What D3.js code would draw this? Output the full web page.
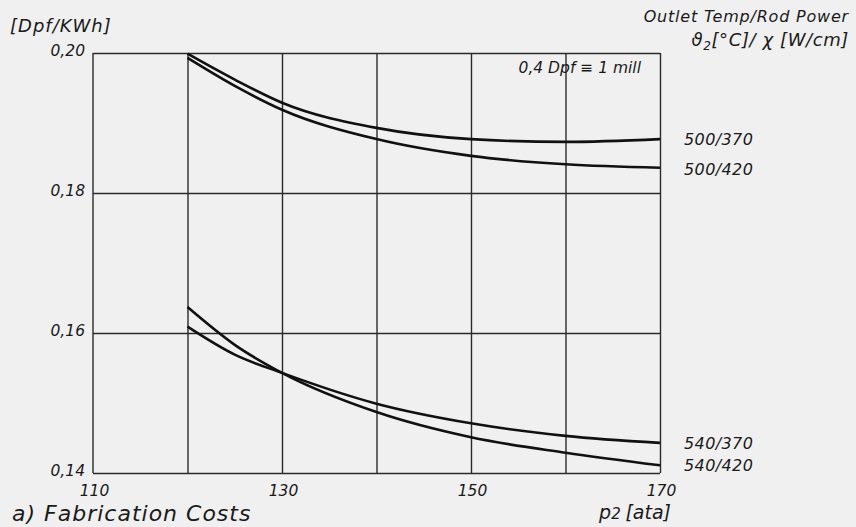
<!DOCTYPE html>
<html>
<head>
<meta charset="utf-8">
<script src="https://cdn.jsdelivr.net/npm/d3@7"></script>
<style>
  html, body { margin: 0; padding: 0; background: #f0f0f0; }
  svg { display: block; }
  text { font-family: "DejaVu Sans", sans-serif; font-style: italic; fill: #1a1a1a; }
</style>
</head>
<body>
<svg id="chart" width="856" height="527"></svg>
<script>
// Pressure p2 [ata] at which each curve was evaluated
const pressure = [120, 125, 130, 140, 150, 160, 170];

// Fabrication costs [Dpf/KWh] per outlet temperature / rod power case
const series500_370 = [0.1999, 0.1962, 0.1929, 0.1893, 0.1877, 0.1873, 0.1877];
const series500_420 = [0.1993, 0.1953, 0.1919, 0.1877, 0.1853, 0.1841, 0.1836];
const series540_370 = [0.1609, 0.1569, 0.1543, 0.1499, 0.1471, 0.1453, 0.1443];
const series540_420 = [0.1637, 0.1583, 0.1543, 0.1487, 0.1451, 0.1429, 0.1411];

const seriesNames = ["500/370", "500/420", "540/370", "540/420"];
const seriesValues = [series500_370, series500_420, series540_370, series540_420];

// Axis ticks
const xGridTicks = [120, 130, 140, 150, 160, 170];
const xLabelTicks = [110, 130, 150, 170];
const yTicks = [0.14, 0.16, 0.18, 0.20];

const svg = d3.select("#chart");
const plot = { left: 93, right: 660, top: 53, bottom: 473 };

const x = d3.scaleLinear().domain([110, 170]).range([plot.left, plot.right]);
const y = d3.scaleLinear().domain([0.14, 0.20]).range([plot.bottom, plot.top]);

const commaFmt = v => d3.format(".2f")(v).replace(".", ",");

// Vertical grid lines
const gx = svg.append("g")
  .attr("transform", `translate(0,${plot.bottom})`)
  .call(d3.axisBottom(x).tickValues(xGridTicks).tickSize(-(plot.bottom - plot.top)).tickFormat(""));
gx.select(".domain").remove();
gx.selectAll("line").attr("stroke", "#2a2a2a").attr("stroke-width", 1.4);

// Horizontal grid lines
const gy = svg.append("g")
  .attr("transform", `translate(${plot.left},0)`)
  .call(d3.axisLeft(y).tickValues(yTicks).tickSize(-(plot.right - plot.left)).tickFormat(""));
gy.select(".domain").remove();
gy.selectAll("line").attr("stroke", "#2a2a2a").attr("stroke-width", 1.4);

// Left frame line
svg.append("line")
  .attr("x1", x(110)).attr("x2", x(110))
  .attr("y1", y(0.20)).attr("y2", y(0.14))
  .attr("stroke", "#2a2a2a").attr("stroke-width", 1.4);

// Y tick labels
const yLab = svg.append("g")
  .attr("transform", `translate(${plot.left - 5},0)`)
  .call(d3.axisLeft(y).tickValues(yTicks).tickSize(0).tickFormat(commaFmt));
yLab.select(".domain").remove();
yLab.selectAll("text")
  .attr("font-family", "DejaVu Sans").attr("font-style", "italic")
  .attr("font-size", 15.5).attr("fill", "#1a1a1a").attr("dy", "0.15em");

// X tick labels
const xLab = svg.append("g")
  .attr("transform", `translate(1,${plot.bottom + 9})`)
  .call(d3.axisBottom(x).tickValues(xLabelTicks).tickSize(0).tickFormat(d3.format("d")));
xLab.select(".domain").remove();
xLab.selectAll("text")
  .attr("font-family", "DejaVu Sans").attr("font-style", "italic")
  .attr("font-size", 15.5).attr("fill", "#1a1a1a");

// Curves
const line = d3.line()
  .x((d, i) => x(pressure[i]))
  .y(d => y(d))
  .curve(d3.curveMonotoneX);

svg.append("g").selectAll("path")
  .data(seriesValues)
  .join("path")
  .attr("d", d => line(d))
  .attr("fill", "none")
  .attr("stroke", "#111")
  .attr("stroke-width", 2.6);

// Curve labels at the right end
const labelOffsets = { "500/370": 6, "500/420": 7, "540/370": 6, "540/420": 6 };
svg.append("g").selectAll("text")
  .data(seriesNames)
  .join("text")
  .attr("x", plot.right + 24)
  .attr("y", (d, i) => y(seriesValues[i][seriesValues[i].length - 1]) + labelOffsets[d])
  .attr("font-size", 16)
  .attr("letter-spacing", 0.4)
  .text(d => d);

// Axis titles and notes
svg.append("text").attr("x", 10).attr("y", 32).attr("font-size", 18)
  .attr("letter-spacing", 1).text("[Dpf/KWh]");

svg.append("text").attr("x", 641).attr("y", 73).attr("font-size", 15.5)
  .attr("text-anchor", "end").text("0,4 Dpf ≡ 1 mill");

svg.append("text").attr("x", 849).attr("y", 22).attr("font-size", 16)
  .attr("letter-spacing", 0.8)
  .attr("text-anchor", "end").text("Outlet Temp/Rod Power");

const leg = svg.append("text").attr("x", 849).attr("y", 46).attr("font-size", 18)
  .attr("letter-spacing", 0.6)
  .attr("text-anchor", "end");
leg.append("tspan").text("ϑ");
leg.append("tspan").attr("font-size", 12).attr("dy", 4).text("2");
leg.append("tspan").attr("dy", -4).text("[°C]/ χ [W/cm]");

const px = svg.append("text").attr("x", 671).attr("y", 519).attr("font-size", 19)
  .attr("text-anchor", "end");
px.append("tspan").text("p");
px.append("tspan").attr("font-size", 15).text("2 ");
px.append("tspan").text("[ata]");

svg.append("text").attr("x", 12).attr("y", 521).attr("font-size", 22)
  .attr("letter-spacing", 1).text("a)  Fabrication Costs");
</script>
</body>
</html>
